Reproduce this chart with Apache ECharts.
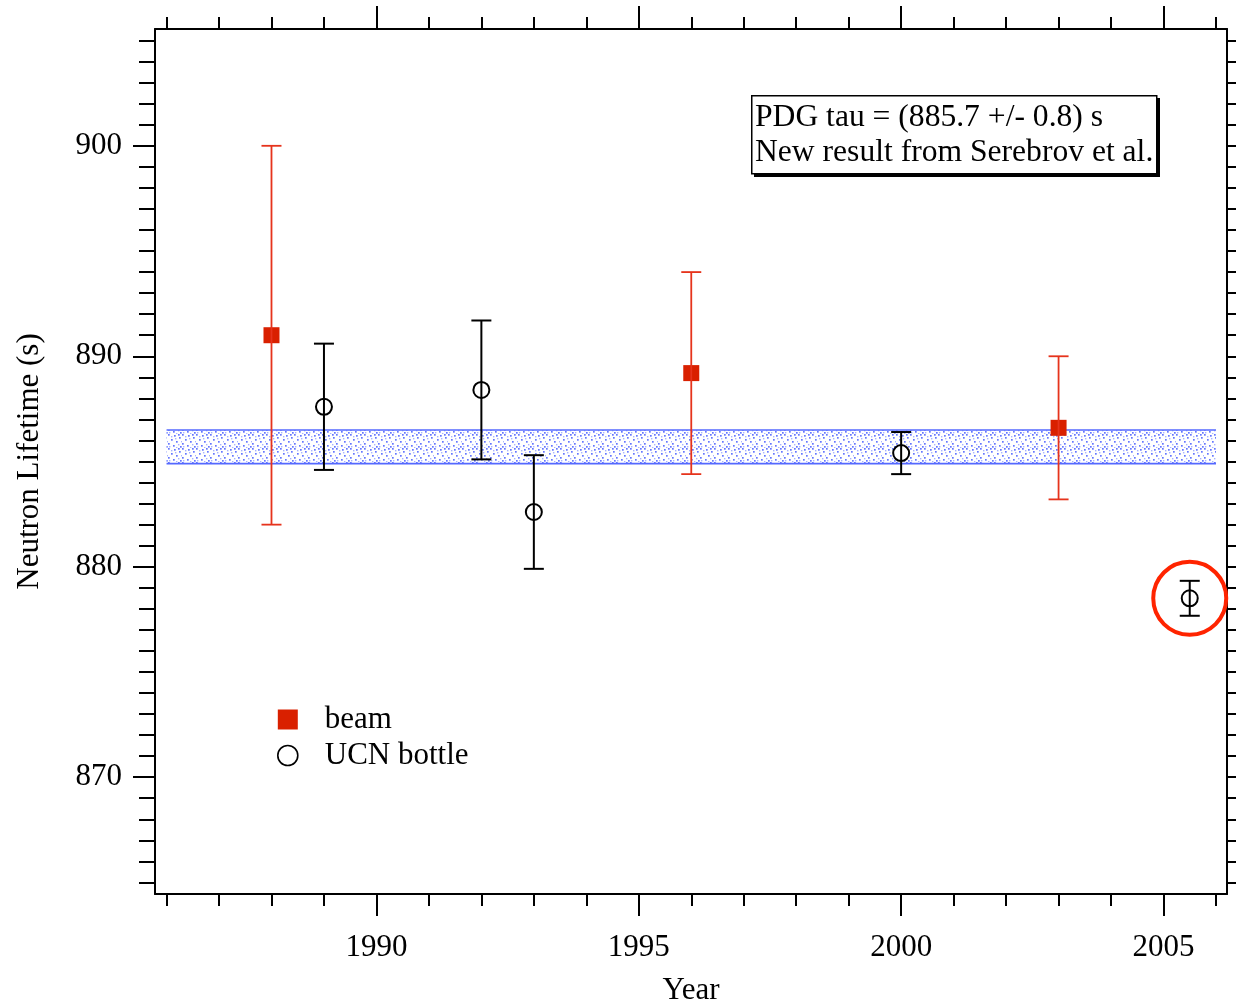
<!DOCTYPE html>
<html><head><meta charset="utf-8">
<script src="https://cdn.jsdelivr.net/npm/echarts@6/dist/echarts.min.js"></script>
<style>html,body{margin:0;padding:0;background:#fff}#chart{width:1236px;height:1006px}</style>
</head><body><div id="chart"></div>
<script>
// ---- data ----
const beamYears = [1988, 1996, 2003];
const beamTau = [891.0, 889.2, 886.6];
const beamErr = [9.0, 4.8, 3.4];
const ucnYears = [1989, 1992, 1993, 2000, 2005.5];
const ucnTau = [887.6, 888.4, 882.6, 885.4, 878.5];
const ucnErr = [3.0, 3.3, 2.7, 1.0, 0.83];
const pdgTau = 885.7;
const pdgErr = 0.8;
const bandYears = [1986, 2006];
const highlightIndex = 4;
const xMajorTicks = [1990, 1995, 2000, 2005];
const xMinorTicks = [1986,1987,1988,1989,1990,1991,1992,1993,1994,1995,1996,1997,1998,1999,2000,2001,2002,2003,2004,2005,2006];
const yMajorTicks = [870, 880, 890, 900];
const yMinorTicks = [865,866,867,868,869,870,871,872,873,874,875,876,877,878,879,880,881,882,883,884,885,886,887,888,889,890,891,892,893,894,895,896,897,898,899,900,901,902,903,904,905];
const xRange = [1985.78, 2006.21];
const yRange = [864.45, 905.55];
const boxLines = ['PDG tau = (885.7 +/- 0.8) s', 'New result from Serebrov et al.'];

const FONT = '"Liberation Serif", "Times New Roman", serif';
const RED_MARK = '#d92000';
const RED_BAR = '#e6331c';

// dotted pattern tile for the PDG band
const pat = document.createElement('canvas');
pat.width = 14; pat.height = 14;
const pc = pat.getContext('2d');
pc.fillStyle = '#ffffff'; pc.fillRect(0, 0, 14, 14);
pc.fillStyle = '#6577ff';
[[0,0],[6,1],[11,3],[3,5],[8,7],[0,9],[5,11],[12,12],[10,0]].forEach(p => pc.fillRect(p[0], p[1], 1.7, 1.7));
pc.fillStyle = '#a9b3ff';
[[3,2],[13,7],[8,13],[1,12],[7,4],[10,10]].forEach(p => pc.fillRect(p[0], p[1], 1.4, 1.4));

const chart = echarts.init(document.getElementById('chart'), null, {renderer: 'canvas'});

function xAxisDef(pos, ticks, len, line, labels, name) {
  return {
    type: 'value', position: pos, min: xRange[0], max: xRange[1],
    axisLine: {show: line, onZero: false, lineStyle: {color: '#000', width: 2}},
    axisTick: {show: true, inside: false, length: len, customValues: ticks, lineStyle: {color: '#000', width: 2}},
    axisLabel: labels ? {show: true, customValues: xMajorTicks, formatter: v => String(v), margin: 38, color: '#000', fontSize: 31, fontFamily: FONT} : {show: false},
    splitLine: {show: false},
    name: name || '', nameLocation: 'middle', nameGap: 81,
    nameTextStyle: {color: '#000', fontSize: 31, fontFamily: FONT}
  };
}
function yAxisDef(pos, ticks, len, line, labels, name) {
  return {
    type: 'value', position: pos, min: yRange[0], max: yRange[1],
    axisLine: {show: line, onZero: false, lineStyle: {color: '#000', width: 2}},
    axisTick: {show: true, inside: false, length: len, customValues: ticks, lineStyle: {color: '#000', width: 2}},
    axisLabel: labels ? {show: true, customValues: yMajorTicks, formatter: v => String(v), margin: 33, color: '#000', fontSize: 31, fontFamily: FONT} : {show: false},
    splitLine: {show: false},
    name: name || '', nameLocation: 'middle', nameGap: 110,
    nameTextStyle: {color: '#000', fontSize: 31, fontFamily: FONT}
  };
}

function errRender(color, width) {
  return function (params, api) {
    const x = api.value(0), lo = api.value(1), hi = api.value(2);
    const t = api.coord([x, hi]), b = api.coord([x, lo]);
    const hw = 10;
    const st = {stroke: color, lineWidth: width};
    return {type: 'group', children: [
      {type: 'line', shape: {x1: t[0], y1: t[1], x2: b[0], y2: b[1]}, style: st},
      {type: 'line', shape: {x1: t[0] - hw, y1: t[1], x2: t[0] + hw, y2: t[1]}, style: st},
      {type: 'line', shape: {x1: b[0] - hw, y1: b[1], x2: b[0] + hw, y2: b[1]}, style: st}
    ]};
  };
}

const option = {
  backgroundColor: '#fff',
  animation: false,
  grid: {left: 155, right: 9, top: 29, bottom: 112, containLabel: false, outerBoundsMode: 'none'},
  xAxis: [
    xAxisDef('bottom', xMinorTicks, 12, true, true, 'Year'),
    xAxisDef('bottom', xMajorTicks, 22, false, false),
    xAxisDef('top', xMinorTicks, 12, true, false),
    xAxisDef('top', xMajorTicks, 23, false, false)
  ],
  yAxis: [
    yAxisDef('left', yMinorTicks, 16, true, true, 'Neutron Lifetime (s)'),
    yAxisDef('left', yMajorTicks, 22, false, false),
    yAxisDef('right', yMinorTicks, 16, true, false),
    yAxisDef('right', yMajorTicks, 22, false, false)
  ],
  legend: {
    orient: 'vertical', left: 277, top: 704, padding: 0, itemWidth: 20, itemHeight: 20, itemGap: 5,
    textStyle: {color: '#000', fontSize: 31, fontFamily: FONT, lineHeight: 30, padding: [0, 0, 0, 22]},
    data: [
      {name: 'beam', icon: 'rect', itemStyle: {color: RED_MARK, borderWidth: 0, opacity: 1}},
      {name: 'UCN bottle', icon: 'circle', itemStyle: {color: '#fff', borderColor: '#000', borderWidth: 1.6, opacity: 1}}
    ]
  },
  series: [
    {
      type: 'custom', name: 'PDG band', silent: true, z: 1,
      data: [[bandYears[0], bandYears[1], pdgTau - pdgErr, pdgTau + pdgErr]],
      encode: {x: [0, 1], y: [2, 3]},
      renderItem: function (params, api) {
        const p1 = api.coord([api.value(0), api.value(3)]);
        const p2 = api.coord([api.value(1), api.value(2)]);
        const st = {stroke: '#5468ff', lineWidth: 1.6};
        return {type: 'group', children: [
          {type: 'rect', shape: {x: p1[0], y: p1[1], width: p2[0] - p1[0], height: p2[1] - p1[1]}, style: {fill: {image: pat, repeat: 'repeat'}}},
          {type: 'line', shape: {x1: p1[0], y1: p1[1], x2: p2[0], y2: p1[1]}, style: st},
          {type: 'line', shape: {x1: p1[0], y1: p2[1], x2: p2[0], y2: p2[1]}, style: st}
        ]};
      }
    },
    {
      type: 'scatter', name: 'beam', symbol: 'rect', symbolSize: 16, z: 3,
      itemStyle: {color: RED_MARK, opacity: 1},
      data: beamYears.map((y, i) => [y, beamTau[i]])
    },
    {
      type: 'scatter', name: 'UCN bottle', symbol: 'emptyCircle', symbolSize: 16, z: 3,
      itemStyle: {color: '#000', borderWidth: 1.6, opacity: 1},
      data: ucnYears.map((y, i) => [y, ucnTau[i]])
    },
    {
      type: 'custom', name: 'beam err', silent: true, z: 4,
      data: beamYears.map((y, i) => [y, beamTau[i] - beamErr[i], beamTau[i] + beamErr[i]]),
      encode: {x: 0, y: [1, 2]},
      renderItem: errRender(RED_BAR, 1.8)
    },
    {
      type: 'custom', name: 'ucn err', silent: true, z: 4,
      data: ucnYears.map((y, i) => [y, ucnTau[i] - ucnErr[i], ucnTau[i] + ucnErr[i]]),
      encode: {x: 0, y: [1, 2]},
      renderItem: errRender('#000', 2)
    },
    {
      type: 'custom', name: 'highlight', silent: true, z: 5,
      data: [[ucnYears[highlightIndex], ucnTau[highlightIndex]]],
      encode: {x: 0, y: 1},
      renderItem: function (params, api) {
        const c = api.coord([api.value(0), api.value(1)]);
        return {type: 'circle', shape: {cx: c[0], cy: c[1], r: 36.5}, style: {fill: 'none', stroke: '#ff2400', lineWidth: 4}};
      }
    }
  ],
  graphic: [
    {type: 'rect', left: 754, top: 98, shape: {width: 406, height: 79}, style: {fill: '#000'}, z: 10},
    {type: 'rect', left: 751, top: 95, shape: {width: 405, height: 78}, style: {fill: '#fff', stroke: '#000', lineWidth: 1.5}, z: 11},
    {type: 'text', left: 755, top: 102, style: {text: boxLines[0], fill: '#000', fontSize: 31.6, fontFamily: FONT}, z: 12},
    {type: 'text', left: 755, top: 137, style: {text: boxLines[1], fill: '#000', fontSize: 31.6, fontFamily: FONT}, z: 12}
  ]
};
chart.setOption(option);
</script></body></html>
